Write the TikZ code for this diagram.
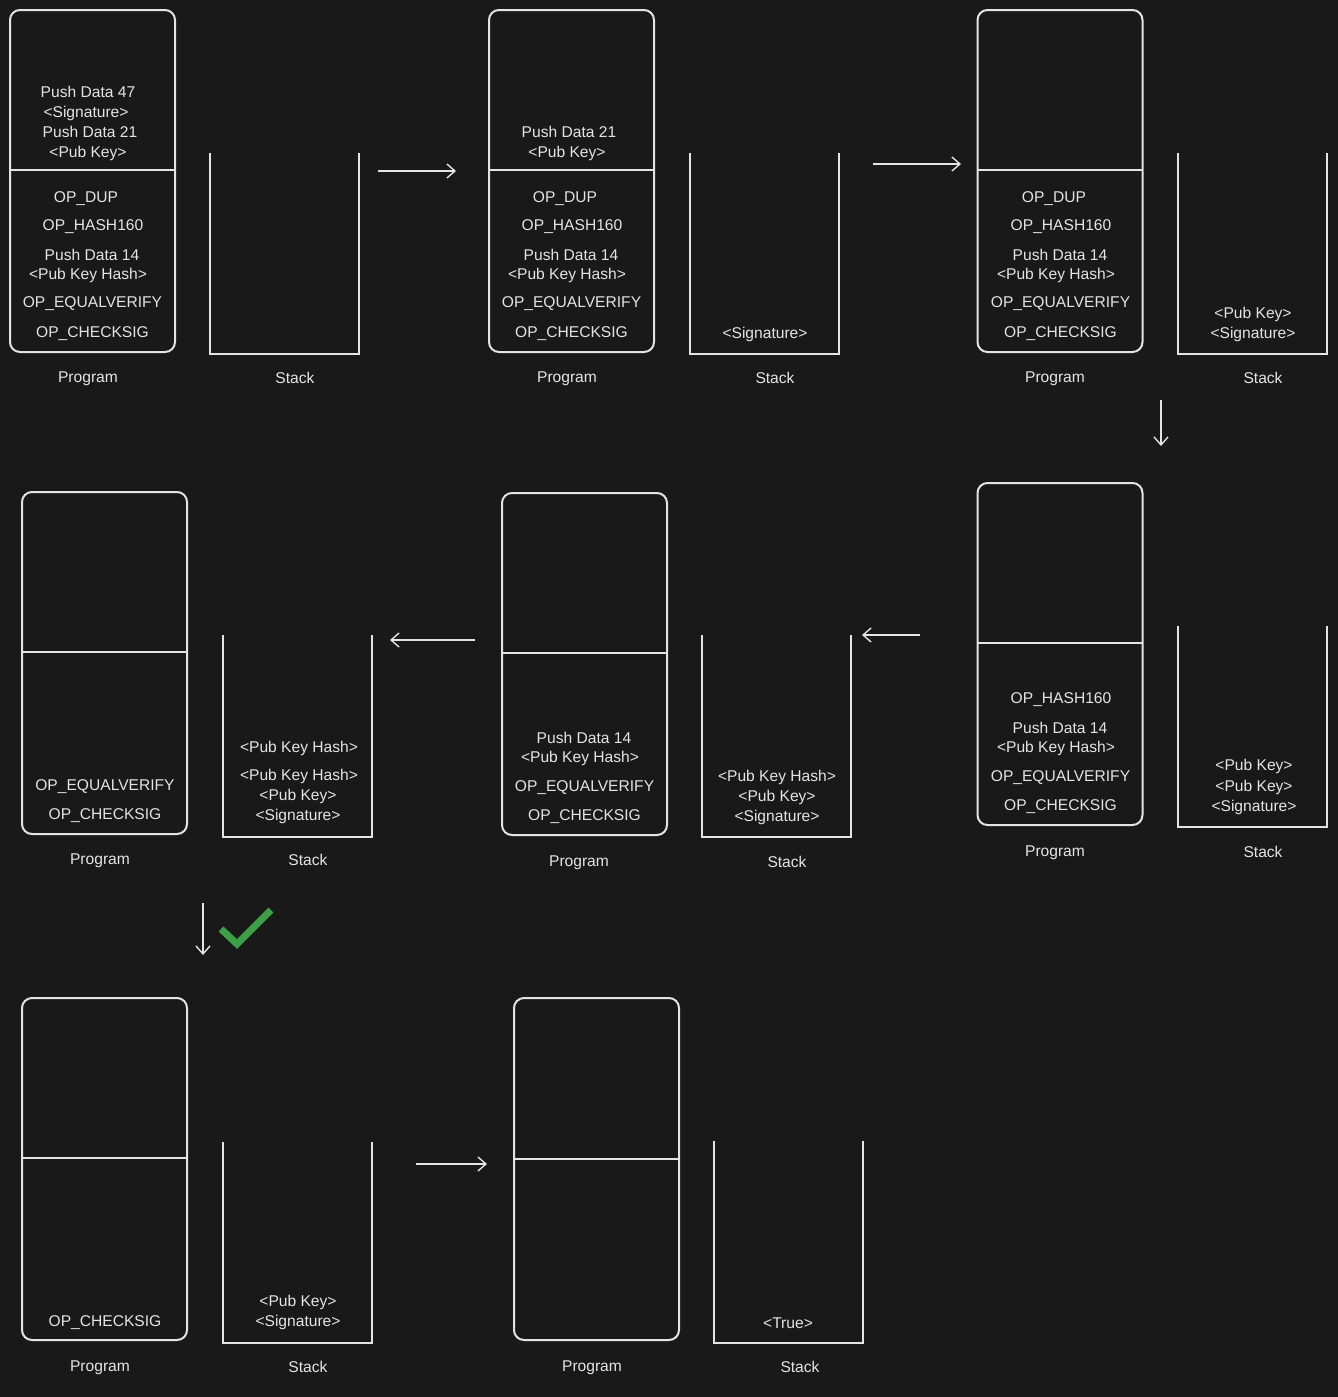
\documentclass[tikz,border=0pt]{standalone}
\usepackage{fontspec}
\setmainfont{Liberation Sans}
\usetikzlibrary{arrows.meta}

\definecolor{bgdark}{RGB}{25,25,25}
\definecolor{ink}{RGB}{228,228,228}
\definecolor{okgreen}{RGB}{62,160,70}

\tikzset{
    prog/.style={draw=ink, line width=1pt, rounded corners=5pt, inner sep=0pt,
        minimum width=82.5pt, minimum height=171pt},
    stackline/.style={draw=ink, line width=1pt},
    txt/.style={text=ink, inner sep=0pt, yshift=-1.2pt, font=\fontsize{7.8}{9.5}\selectfont},
    flow/.style={draw=ink, line width=0.7pt, -{Straight Barb[length=4pt,width=7pt]}}
}

\begin{document}
\begin{tikzpicture}[
            x=0.5pt, y=-0.5pt
        ]
            \fill [bgdark] (0,0) rectangle (1338,1397);
            \useasboundingbox (0,0) rectangle (1338,1397);

            % row 1
            \node [prog] (prog1) at (92.5,181) {};
            \draw [stackline] (10,170) -- (175,170);
            \foreach \x/\y/\t [count=\i] in {88/90/Push Data 47, 86/111/<Signature>, 90/130/Push Data 21, 88/151/<Pub Key>,
                    86/196/OP\_DUP, 93/224/OP\_HASH160, 92/253/Push Data 14, 88/273/<Pub Key Hash>,
                    92.5/301/OP\_EQUALVERIFY, 92.5/331/OP\_CHECKSIG} {
                \node [txt] (prog1t\i) at (\x,\y) {\t};
            }
            \node [txt] (prog1lbl) at (88,376) {Program};
            \draw [stackline] (210,153) -- (210,354) -- (359,354) -- (359,153);
            \node [txt] (stack1lbl) at (295,376) {Stack};

            \node [prog] (prog2) at (571.5,181) {};
            \draw [stackline] (489,170) -- (654,170);
            \foreach \x/\y/\t [count=\i] in {569/130/Push Data 21, 567/151/<Pub Key>,
                    565/196/OP\_DUP, 572/224/OP\_HASH160, 571/253/Push Data 14, 567/273/<Pub Key Hash>,
                    571.5/301/OP\_EQUALVERIFY, 571.5/331/OP\_CHECKSIG} {
                \node [txt] (prog2t\i) at (\x,\y) {\t};
            }
            \node [txt] (prog2lbl) at (567,376) {Program};
            \draw [stackline] (690,153) -- (690,354) -- (839,354) -- (839,153);
            \node [txt] (stack2t1) at (765,332) {<Signature>};
            \node [txt] (stack2lbl) at (775,376) {Stack};

            \node [prog] (prog3) at (1060,181) {};
            \draw [stackline] (978,170) -- (1142,170);
            \foreach \x/\y/\t [count=\i] in {1054/196/OP\_DUP, 1061/224/OP\_HASH160, 1060/253/Push Data 14,
                    1056/273/<Pub Key Hash>, 1060.5/301/OP\_EQUALVERIFY, 1060.5/331/OP\_CHECKSIG} {
                \node [txt] (prog3t\i) at (\x,\y) {\t};
            }
            \node [txt] (prog3lbl) at (1055,376) {Program};
            \draw [stackline] (1178,153) -- (1178,354) -- (1327,354) -- (1327,153);
            \node [txt] (stack3t1) at (1253,312) {<Pub Key>};
            \node [txt] (stack3t2) at (1253,332) {<Signature>};
            \node [txt] (stack3lbl) at (1263,376) {Stack};

            % row 2, right to left
            \node [prog] (prog6) at (1060,654) {};
            \draw [stackline] (978,643) -- (1142,643);
            \foreach \x/\y/\t [count=\i] in {1061/697/OP\_HASH160, 1060/726/Push Data 14, 1056/746/<Pub Key Hash>,
                    1060.5/775/OP\_EQUALVERIFY, 1060.5/804/OP\_CHECKSIG} {
                \node [txt] (prog6t\i) at (\x,\y) {\t};
            }
            \node [txt] (prog6lbl) at (1055,850) {Program};
            \draw [stackline] (1178,626) -- (1178,827) -- (1327,827) -- (1327,626);
            \node [txt] (stack6t1) at (1254,764) {<Pub Key>};
            \node [txt] (stack6t2) at (1254,785) {<Pub Key>};
            \node [txt] (stack6t3) at (1254,805) {<Signature>};
            \node [txt] (stack6lbl) at (1263,850) {Stack};

            \node [prog] (prog5) at (584.5,664) {};
            \draw [stackline] (502,653) -- (666,653);
            \foreach \x/\y/\t [count=\i] in {584/736/Push Data 14, 580/756/<Pub Key Hash>,
                    584.5/785/OP\_EQUALVERIFY, 584.5/814/OP\_CHECKSIG} {
                \node [txt] (prog5t\i) at (\x,\y) {\t};
            }
            \node [txt] (prog5lbl) at (579,860) {Program};
            \draw [stackline] (702,635) -- (702,837) -- (851,837) -- (851,635);
            \node [txt] (stack5t1) at (777,775) {<Pub Key Hash>};
            \node [txt] (stack5t2) at (777,795) {<Pub Key>};
            \node [txt] (stack5t3) at (777,815) {<Signature>};
            \node [txt] (stack5lbl) at (787,860) {Stack};

            \node [prog] (prog4) at (104.5,663) {};
            \draw [stackline] (22,652) -- (187,652);
            \node [txt] (prog4t1) at (105,784) {OP\_EQUALVERIFY};
            \node [txt] (prog4t2) at (105,813) {OP\_CHECKSIG};
            \node [txt] (prog4lbl) at (100,858) {Program};
            \draw [stackline] (223,635) -- (223,837) -- (372,837) -- (372,635);
            \node [txt] (stack4t1) at (299,746) {<Pub Key Hash>};
            \node [txt] (stack4t2) at (299,774) {<Pub Key Hash>};
            \node [txt] (stack4t3) at (298,794) {<Pub Key>};
            \node [txt] (stack4t4) at (298,814) {<Signature>};
            \node [txt] (stack4lbl) at (308,858) {Stack};

            % row 3
            \node [prog] (prog7) at (104.5,1169) {};
            \draw [stackline] (22,1158) -- (187,1158);
            \node [txt] (prog7t1) at (105,1320) {OP\_CHECKSIG};
            \node [txt] (prog7lbl) at (100,1365) {Program};
            \draw [stackline] (223,1142) -- (223,1343) -- (372,1343) -- (372,1142);
            \node [txt] (stack7t1) at (298,1300) {<Pub Key>};
            \node [txt] (stack7t2) at (298,1320) {<Signature>};
            \node [txt] (stack7lbl) at (308,1365) {Stack};

            \node [prog] (prog8) at (596.5,1169) {};
            \draw [stackline] (514,1159) -- (679,1159);
            \node [txt] (prog8lbl) at (592,1365) {Program};
            \draw [stackline] (714,1141) -- (714,1343) -- (863,1343) -- (863,1141);
            \node [txt] (stack8t1) at (788,1321) {<True>};
            \node [txt] (stack8lbl) at (800,1365) {Stack};

            % steps
            \foreach \i/\sx/\sy/\ex/\ey in {1/378/171/456/171, 2/873/164/961/164, 3/1161/400/1161/446,
                    4/920/635/862/635, 5/475/640/390/640, 6/203/903/203/955, 7/416/1164/487/1164} {
                \coordinate (step\i s) at (\sx,\sy);
                \coordinate (step\i e) at (\ex,\ey);
                \draw [flow] (step\i s) -- (step\i e);
            }

            \draw [okgreen, line width=3.5pt] (221,929) -- (237,944) -- (271,910);
        \end{tikzpicture}
\end{document}
